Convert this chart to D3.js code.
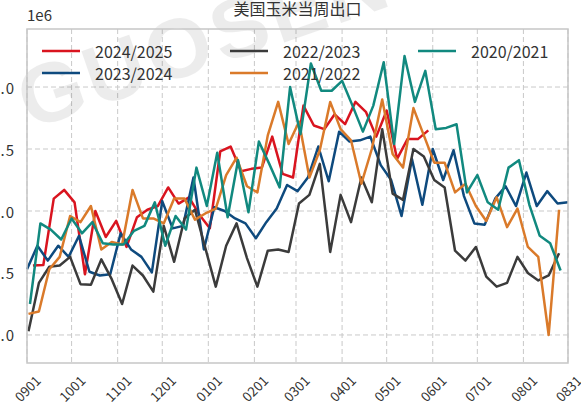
<!DOCTYPE html>
<html>
<head>
<meta charset="utf-8">
<script src="https://cdn.jsdelivr.net/npm/d3@7"></script>
<style>
  body { margin: 0; background: #fff; }
  svg { display: block; font-family: "Noto Sans CJK SC", "Noto Sans", sans-serif; }
</style>
</head>
<body>
<div id="chart"></div>
<script>
// season labels and the weekday each season's first week falls on (MM-DD)
const seasons = ["2024/2025", "2023/2024", "2022/2023", "2021/2022", "2020/2021"];
const seasonStart = ["09-05", "09-01", "09-02", "09-02", "09-03"];

// weekly export, million tonnes (axis shows 1e6)
const s2425 = [0.56, 0.565, 1.10, 1.17, 1.07, 0.49, 1.00, 0.79, 0.92, 0.71, 0.95, 1.01, 1.04, 1.19, 1.06, 1.11, 0.97, 0.86, 1.48, 1.52,
  1.32, 1.34, 1.35, 1.60, 1.30, 1.27, 1.85, 1.69, 1.66, 1.78, 1.70, 1.88, 1.80, 1.60, 1.81, 1.42, 1.58, 1.58, 1.65];
const s2324 = [0.53, 0.72, 0.60, 0.72, 0.63, 0.80, 0.51, 0.48, 0.49, 0.82, 0.69, 0.63, 0.505, 1.08, 0.86, 0.88, 1.27, 0.69, 1.03, 1.00,
  0.94, 0.90, 0.78, 0.91, 1.02, 1.21, 1.16, 1.27, 1.52, 1.24, 1.64, 1.56, 1.57, 1.60, 1.37, 1.25, 0.96, 1.42, 1.05, 1.50,
  1.25, 1.49, 1.12, 0.90, 0.89, 1.10, 1.20, 1.04, 1.31, 1.04, 1.16, 1.06, 1.07];
const s2223 = [0.03, 0.42, 0.55, 0.56, 0.63, 0.41, 0.405, 0.61, 0.45, 0.25, 0.56, 0.48, 0.35, 0.88, 0.59, 0.94, 1.01, 0.70, 0.39, 0.72,
  0.90, 0.62, 0.39, 0.68, 0.69, 0.67, 1.06, 1.13, 1.38, 0.67, 1.13, 0.91, 1.27, 1.07, 1.66, 1.14, 1.09, 1.50, 1.44, 1.25,
  1.19, 0.68, 0.60, 0.71, 0.47, 0.39, 0.42, 0.63, 0.50, 0.44, 0.48, 0.66];
const s2122 = [0.17, 0.19, 0.53, 0.63, 0.96, 0.91, 1.04, 0.69, 0.75, 0.73, 1.17, 0.94, 0.94, 0.90, 1.10, 1.10, 0.93, 0.98, 1.02, 1.29,
  1.43, 1.20, 1.15, 1.61, 1.88, 1.54, 1.72, 1.27, 1.49, 1.88, 1.66, 1.57, 1.22, 1.50, 1.90, 1.46, 1.35, 1.83, 1.61, 1.39,
  1.39, 1.15, 1.22, 1.04, 0.92, 1.11, 0.87, 1.02, 0.71, 0.63, 0.00, 1.01];
const s2021 = [0.25, 0.90, 0.85, 0.77, 0.94, 0.82, 0.91, 0.74, 0.73, 0.73, 0.84, 0.88, 1.07, 0.72, 0.96, 0.85, 1.35, 1.04, 1.47, 0.95,
  1.41, 0.99, 1.56, 1.38, 1.19, 2.00, 1.62, 2.19, 1.97, 1.97, 2.05, 1.85, 1.64, 1.85, 2.20, 1.54, 2.25, 1.88, 2.13, 1.66,
  1.67, 1.70, 1.15, 1.29, 1.07, 1.01, 1.35, 1.41, 1.05, 0.80, 0.74, 0.52];
const seriesValues = [s2425, s2324, s2223, s2122, s2021];
const colors = ["#d9141f", "#0e4a7e", "#3b3b3b", "#da7a2a", "#11897f"];

const xTickLabels = ["0901", "1001", "1101", "1201", "0101", "0201", "0301", "0401", "0501", "0601", "0701", "0801", "0831"];
const yTicks = [0, 0.5, 1.0, 1.5, 2.0];

const width = 581, height = 405;
const plot = { left: 27, right: 568, top: 29, bottom: 363 };

// map MMDD onto one marketing year (Sep 2022 - Aug 2023)
const parseMD = md => {
  const m = +md.slice(0, 2), d = +md.slice(md.length - 2);
  return new Date(m >= 9 ? 2022 : 2023, m - 1, d);
};

const x = d3.scaleTime()
  .domain([parseMD("0901"), parseMD("0831")])
  .range([plot.left, plot.right]);

const y = d3.scaleLinear()
  .domain([-0.226, 2.468])
  .range([plot.bottom, plot.top]);

const svg = d3.select("#chart").append("svg")
  .attr("width", width)
  .attr("height", height);

// grid
const grid = svg.append("g").attr("stroke", "#c9c9c9").attr("stroke-dasharray", "5,3").attr("stroke-width", 1);
grid.selectAll("line.v")
  .data(xTickLabels)
  .enter().append("line")
  .attr("x1", d => x(parseMD(d))).attr("x2", d => x(parseMD(d)))
  .attr("y1", plot.top).attr("y2", plot.bottom);
grid.selectAll("line.h")
  .data(yTicks)
  .enter().append("line")
  .attr("x1", plot.left).attr("x2", plot.right)
  .attr("y1", d => y(d)).attr("y2", d => y(d));

// watermark
svg.append("text")
  .attr("transform", "translate(30,130) rotate(-19)")
  .attr("font-family", "Liberation Sans, sans-serif")
  .attr("font-size", 84)
  .attr("font-weight", "bold")
  .attr("letter-spacing", 4)
  .attr("fill", "#000")
  .attr("opacity", 0.07)
  .text("GUOSEN");

// lines
const line = d3.line()
  .x(d => x(d.date))
  .y(d => y(d.value));

const lineData = seasons.map((s, k) => {
  const start = parseMD(seasonStart[k].replace("-", ""));
  return seriesValues[k].map((v, i) => ({ date: d3.timeDay.offset(start, 7 * i), value: v }));
});

svg.append("g")
  .selectAll("path")
  .data(lineData)
  .enter().append("path")
  .attr("fill", "none")
  .attr("stroke", (_, k) => colors[k])
  .attr("stroke-width", 2.5)
  .attr("stroke-linejoin", "round")
  .attr("d", line);

// frame
svg.append("rect")
  .attr("x", plot.left).attr("y", plot.top)
  .attr("width", plot.right - plot.left).attr("height", plot.bottom - plot.top)
  .attr("fill", "none").attr("stroke", "#c6c6c6").attr("stroke-width", 1.5);

// x tick labels
svg.append("g")
  .selectAll("text")
  .data(xTickLabels)
  .enter().append("text")
  .attr("transform", d => `translate(${x(parseMD(d))},388) rotate(-45)`)
  .attr("text-anchor", "middle")
  .attr("dominant-baseline", "central")
  .attr("font-size", 13.5)
  .attr("fill", "#333")
  .text(d => d);

// y tick labels (left part cut off by the page edge, as in the source)
svg.append("g")
  .selectAll("text")
  .data(yTicks)
  .enter().append("text")
  .attr("x", 15)
  .attr("y", d => y(d))
  .attr("text-anchor", "end")
  .attr("dominant-baseline", "central")
  .attr("font-size", 15)
  .attr("letter-spacing", 1)
  .attr("fill", "#333")
  .text(d => d.toFixed(1));

svg.append("text")
  .attr("x", 27).attr("y", 21)
  .attr("font-size", 15)
  .attr("fill", "#333")
  .text("1e6");

svg.append("text")
  .attr("x", (plot.left + plot.right) / 2).attr("y", 15)
  .attr("text-anchor", "middle")
  .attr("font-size", 16)
  .attr("fill", "#333")
  .text("美国玉米当周出口");

// legend, 3 columns
const legendPos = [[42, 51], [42, 73], [230, 51], [230, 73], [418, 51]];
const legend = svg.append("g")
  .selectAll("g")
  .data(seasons)
  .enter().append("g")
  .attr("transform", (_, k) => `translate(${legendPos[k][0]},${legendPos[k][1]})`);
legend.append("line")
  .attr("x1", 0).attr("x2", 38)
  .attr("stroke", (_, k) => colors[k])
  .attr("stroke-width", 2.5);
legend.append("text")
  .attr("x", 53)
  .attr("dominant-baseline", "central")
  .attr("font-size", 16)
  .attr("fill", "#333")
  .text(d => d);
</script>
</body>
</html>
